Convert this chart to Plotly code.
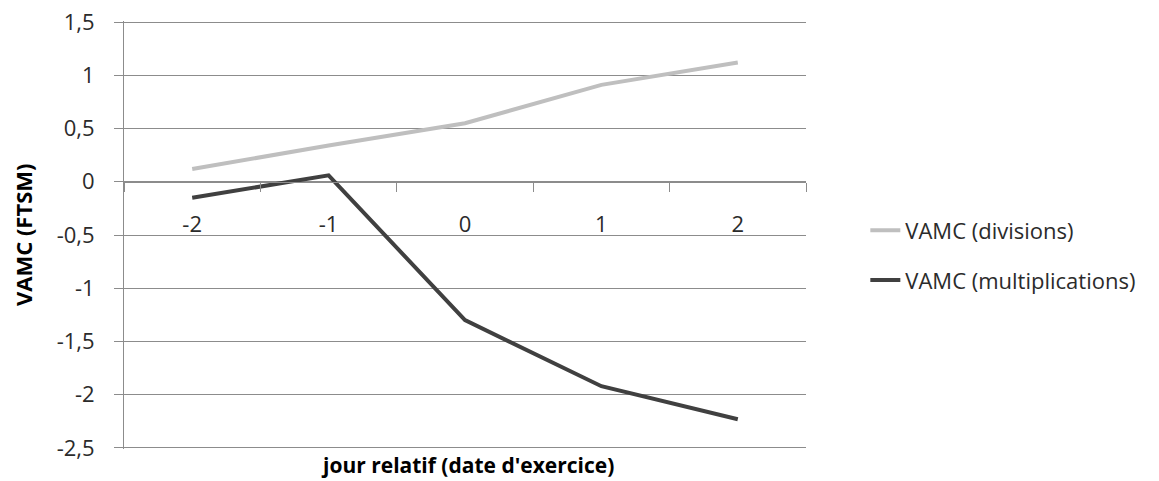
import plotly.graph_objects as go

categories = ["-2", "-1", "0", "1", "2"]
divisions = [0.12, 0.34, 0.55, 0.91, 1.12]
multiplications = [-0.15, 0.06, -1.30, -1.92, -2.23]
ytick_vals = [1.5, 1, 0.5, 0, -0.5, -1, -1.5, -2, -2.5]
ytick_text = ["1,5", "1", "0,5", "0", "-0,5", "-1", "-1,5", "-2", "-2,5"]

FONT = "Open Sans"
GRID = "#8c8c8c"
TXT = "#2b2b2b"

fig = go.Figure()
fig.add_trace(go.Scatter(x=categories, y=divisions, mode="lines",
                         name="VAMC (divisions)", legendgroup="a",
                         line=dict(color="#bfbfbf", width=4)))
fig.add_trace(go.Scatter(x=categories, y=multiplications, mode="lines",
                         name="VAMC (multiplications)", legendgroup="b",
                         line=dict(color="#404040", width=4)))

ymin, ymax = -2.51, 1.51
fig.update_layout(
    width=1159, height=481,
    margin=dict(l=124, r=353, t=21, b=32, autoexpand=False),
    paper_bgcolor="white", plot_bgcolor="white",
    font=dict(family=FONT, size=22, color=TXT),
    showlegend=True,
    legend=dict(x=1.087, y=0.452, xanchor="left", yanchor="middle",
                font=dict(family=FONT, size=22, color=TXT),
                tracegroupgap=18, bgcolor="rgba(0,0,0,0)"),
    xaxis=dict(type="category", anchor="free", automargin=False,
               position=(0 - ymin) / (ymax - ymin),
               showline=True, linecolor=GRID, linewidth=1,
               ticks="outside", tickson="boundaries", ticklen=9,
               tickcolor=GRID, showgrid=False, zeroline=False,
               ticklabelstandoff=23, ticklabeloverflow="allow",
               tickfont=dict(family=FONT, size=22, color=TXT),
               range=[-0.5, 4.5]),
    yaxis=dict(range=[ymin, ymax], tickvals=ytick_vals, ticktext=ytick_text,
               automargin=False, ticklabeloverflow="allow",
               showline=True, linecolor=GRID, linewidth=1,
               showgrid=True, gridcolor=GRID, gridwidth=1,
               ticks="outside", ticklen=9, tickcolor=GRID,
               ticklabelstandoff=15, zeroline=False,
               tickfont=dict(family=FONT, size=22, color=TXT)),
    annotations=[
        dict(text="<b>jour relatif (date d'exercice)</b>", xref="paper", yref="paper",
             x=0.504, y=-0.0374, xanchor="center", yanchor="middle", showarrow=False,
             font=dict(family=FONT, size=21, color="#000000")),
        dict(text="<b>VAMC (FTSM)</b>", xref="paper", yref="paper",
             x=-0.148, y=0.5, xanchor="center", yanchor="middle", textangle=-90,
             showarrow=False, font=dict(family=FONT, size=22, color="#000000")),
    ],
)

fig.write_html("out.html", config={"displayModeBar": False},
               post_script="document.body.style.margin='0';document.body.style.padding='0';")
